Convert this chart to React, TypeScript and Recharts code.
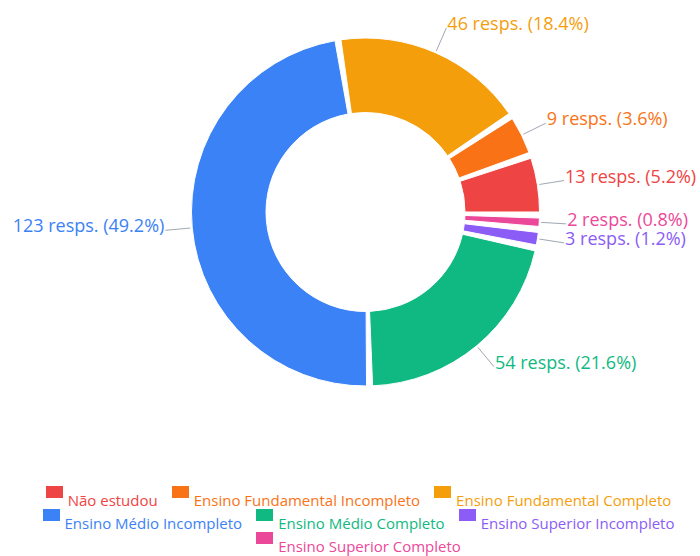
import { Cell, Legend, Pie, PieChart } from "recharts";

const categories = [
  "Não estudou",
  "Ensino Fundamental Incompleto",
  "Ensino Fundamental Completo",
  "Ensino Médio Incompleto",
  "Ensino Médio Completo",
  "Ensino Superior Incompleto",
  "Ensino Superior Completo",
];
const counts = [13, 9, 46, 123, 54, 3, 2];
const colors = ["#ef4444", "#f97316", "#f59e0b", "#3b82f6", "#10b981", "#8b5cf6", "#ec4899"];

const data = categories.map((name, i) => ({ name, value: counts[i] }));

const FONT = "'Open Sans', 'Noto Sans', sans-serif";
const RADIAN = Math.PI / 180;

function renderLabel(props: any) {
  const { cx, cy, midAngle, outerRadius, percent, value, index } = props;
  const cos = Math.cos(-midAngle * RADIAN);
  const sin = Math.sin(-midAngle * RADIAN);
  const sx = cx + (outerRadius + 2) * cos;
  const sy = cy + (outerRadius + 2) * sin;
  const ex = cx + (outerRadius + 27) * cos;
  const ey = cy + (outerRadius + 27) * sin;
  const right = cos >= 0;
  return (
    <g>
      <line x1={sx} y1={sy} x2={ex} y2={ey} stroke="#a0a8b4" strokeWidth={1} />
      <text
        x={ex + (right ? 1 : -1)}
        y={ey - 5}
        textAnchor={right ? "start" : "end"}
        dominantBaseline="central"
        fill={colors[index]}
        fontSize={18}
        fontFamily={FONT}
      >
        {`${value} resps. (${(percent * 100).toFixed(1)}%)`}
      </text>
    </g>
  );
}

function LegendBox() {
  return (
    <div
      style={{
        display: "flex",
        flexWrap: "wrap",
        justifyContent: "center",
        columnGap: 14,
        boxSizing: "border-box",
        width: 700,
        paddingLeft: 17,
        fontFamily: FONT,
      }}
    >
      {categories.map((c, i) => (
        <div key={c} style={{ display: "flex", alignItems: "flex-start", marginBottom: 2 }}>
          <span style={{ width: 17, height: 12, background: colors[i], display: "block" }} />
          <span style={{ fontSize: 15, lineHeight: "14px", marginTop: 7, marginLeft: 5, color: colors[i] }}>
            {c}
          </span>
        </div>
      ))}
    </div>
  );
}

export default function App() {
  return (
    <div style={{ position: "absolute", left: 0, top: 0, width: 700, height: 556, background: "#fff" }}>
      <PieChart width={700} height={556} margin={{ top: 0, right: 0, bottom: 0, left: 0 }}>
        <Pie
          data={data}
          dataKey="value"
          nameKey="name"
          cx={365.5}
          cy={212}
          innerRadius={99.5}
          outerRadius={174}
          startAngle={0}
          endAngle={360}
          paddingAngle={2}
          stroke="#fff"
          strokeWidth={1}
          label={renderLabel}
          labelLine={false}
          isAnimationActive={false}
        >
          {data.map((d, i) => (
            <Cell key={d.name} fill={colors[i]} />
          ))}
        </Pie>
        <Legend
          content={() => <LegendBox />}
          wrapperStyle={{ top: 486, left: 0, bottom: "auto", width: 700 }}
        />
      </PieChart>
    </div>
  );
}
